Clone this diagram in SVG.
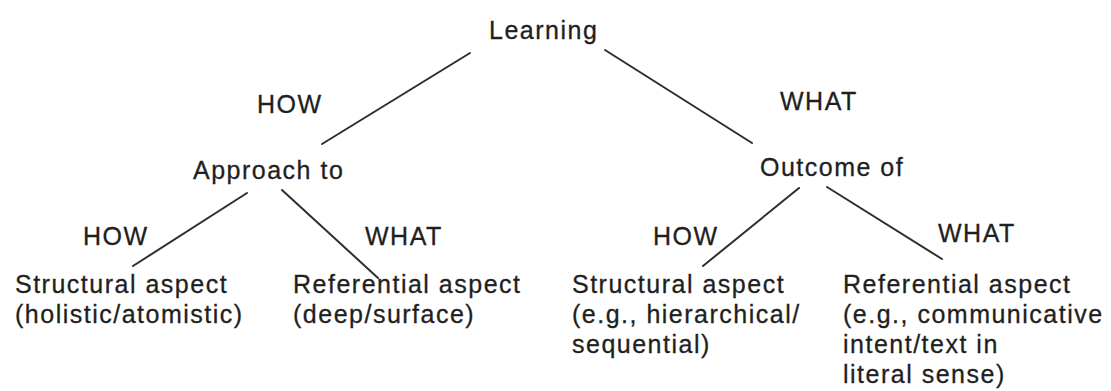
<svg xmlns="http://www.w3.org/2000/svg" width="1111" height="391" viewBox="0 0 1111 391">
  <style>
    .lbl { font-family: "Liberation Sans", Arial, Helvetica, sans-serif; font-size: 25px; letter-spacing: 1.5px; fill: #1f1f1f; stroke: #1f1f1f; stroke-width: 0.3px; }
    .edge { stroke: #2e2e2e; stroke-width: 2; stroke-linecap: round; fill: none; }
  </style>
  <rect width="1111" height="391" fill="#ffffff"/>

  <!-- tree branches -->
  <g id="connectors">
    <line class="edge" x1="470" y1="53" x2="322" y2="144"/>
    <line class="edge" x1="605" y1="50" x2="752" y2="143"/>
    <line class="edge" x1="247" y1="193" x2="133" y2="266"/>
    <line class="edge" x1="282" y1="190" x2="378" y2="278"/>
    <line class="edge" x1="799" y1="188" x2="703" y2="266"/>
    <line class="edge" x1="827" y1="187" x2="942" y2="259"/>
  </g>

  <!-- branch labels -->
  <g id="edge-labels">
    <text class="lbl" x="257" y="113">HOW</text>
    <text class="lbl" x="780" y="110">WHAT</text>
    <text class="lbl" x="83" y="245">HOW</text>
    <text class="lbl" x="365" y="245">WHAT</text>
    <text class="lbl" x="653" y="245">HOW</text>
    <text class="lbl" x="938" y="242">WHAT</text>
  </g>

  <g id="learning">
    <text class="lbl" x="489" y="39" style="letter-spacing:1.5px">Learning</text>
  </g>

  <g id="approach">
    <text class="lbl" x="193" y="179">Approach to</text>
  </g>

  <g id="outcome">
    <text class="lbl" x="760" y="176">Outcome of</text>
  </g>

  <g id="approach-structural">
    <text class="lbl" x="15" y="293">Structural aspect</text>
    <text class="lbl" x="15" y="323">(holistic/atomistic)</text>
  </g>

  <g id="approach-referential">
    <text class="lbl" x="293" y="293">Referential aspect</text>
    <text class="lbl" x="293" y="323">(deep/surface)</text>
  </g>

  <g id="outcome-structural">
    <text class="lbl" x="572" y="293">Structural aspect</text>
    <text class="lbl" x="572" y="323">(e.g., hierarchical/</text>
    <text class="lbl" x="572" y="353">sequential)</text>
  </g>

  <g id="outcome-referential">
    <text class="lbl" x="843" y="293">Referential aspect</text>
    <text class="lbl" x="843" y="323">(e.g., communicative</text>
    <text class="lbl" x="843" y="353">intent/text in</text>
    <text class="lbl" x="843" y="383">literal sense)</text>
  </g>
</svg>
